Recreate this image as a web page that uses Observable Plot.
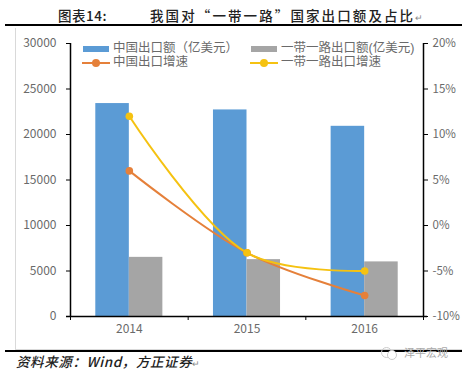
<!DOCTYPE html>
<html><head><meta charset="utf-8">
<script src="https://cdn.jsdelivr.net/npm/d3@7"></script>
<script src="https://cdn.jsdelivr.net/npm/@observablehq/plot@0.6"></script>
<style>
html,body{margin:0;padding:0;background:#fff;}
#wrap{position:relative;width:462px;height:372px;overflow:hidden;font-family:"Noto Sans CJK SC",sans-serif;}
#wrap svg{position:absolute;left:0;top:0;}
.t{position:absolute;white-space:nowrap;}
.lg{position:absolute;white-space:nowrap;font-family:"Liberation Sans","Noto Sans CJK SC",sans-serif;font-size:12.5px;line-height:13px;color:#6a6a6a;}
.sw{position:absolute;}
</style></head><body>
<div id="wrap"></div>
<script>
const years=[2014,2015,2016];
const chinaExport=[23400,22700,20900];
const brExport=[6500,6250,6000];
const chinaGrowth=[6,-3,-7.7];
const brGrowth=[12,-3,-5];
const leftTicks=[0,5000,10000,15000,20000,25000,30000];
const rightTicks=[-10,-5,0,5,10,15,20];
const xEdges=[2013.5,2014.5,2015.5,2016.5];
const colors={china:"#5b9bd5",br:"#a5a5a5",chinaLine:"#e5803a",brLine:"#f5c211"};
const barW=0.285;
const toLeft=p=>(p+10)*1000;
const rows=years.map((y,i)=>({y,c:chinaExport[i],b:brExport[i],cg:toLeft(chinaGrowth[i]),bg:toLeft(brGrowth[i])}));

const plot=Plot.plot({
  width:462,height:372,
  marginLeft:70,marginRight:39,marginTop:43,marginBottom:56,
  style:{background:"transparent",fontFamily:"'Noto Sans CJK SC',sans-serif",overflow:"visible"},
  x:{type:"linear",domain:[2013.5,2016.5]},
  y:{type:"linear",domain:[0,30000]},
  marks:[
    Plot.rectY(rows,{x1:d=>d.y-barW,x2:d=>d.y,y1:0,y2:"c",fill:colors.china}),
    Plot.rectY(rows,{x1:d=>d.y,x2:d=>d.y+barW,y1:0,y2:"b",fill:colors.br}),
    Plot.ruleX([2013.5],{stroke:"#000",strokeWidth:1.5}),
    Plot.ruleX([2016.5],{stroke:"#000",strokeWidth:1.5}),
    Plot.ruleY([0],{stroke:"#000",strokeWidth:1.5,insetLeft:-4,insetRight:-4}),
    Plot.axisY({ticks:leftTicks,anchor:"left",label:null,tickSize:4,tickPadding:10,fontSize:12,color:"#6a6a6a",stroke:"#000",tickFormat:d=>String(d)}),
    Plot.axisY({ticks:rightTicks.map(toLeft),anchor:"right",label:null,tickSize:4,tickPadding:5,fontSize:11.5,color:"#6a6a6a",stroke:"#000",tickFormat:d=>(d/1000-10)+"%"}),
    Plot.axisX({ticks:xEdges,anchor:"bottom",label:null,tickSize:4,tickFormat:()=>"",stroke:"#000"}),
    Plot.text(years,{x:d=>d,frameAnchor:"bottom",dy:16,text:d=>String(d),fontSize:12,fill:"#6a6a6a"}),
    Plot.line(rows,{x:"y",y:"cg",stroke:colors.chinaLine,strokeWidth:2,curve:"catmull-rom"}),
    Plot.line(rows,{x:"y",y:"bg",stroke:colors.brLine,strokeWidth:2,curve:"catmull-rom"}),
    Plot.dot(rows,{x:"y",y:"cg",r:3.8,fill:colors.chinaLine}),
    Plot.dot(rows,{x:"y",y:"bg",r:3.8,fill:colors.brLine})
  ]
});
const w=document.getElementById("wrap");
w.appendChild(plot);
function div(css,html,cls){const d=document.createElement("div");d.className=cls||"t";d.style.cssText=css;if(html)d.innerHTML=html;w.appendChild(d);return d;}
div("left:58px;top:5px;font-size:13.5px;font-weight:500;color:#222;letter-spacing:.5px;","图表14:");
div("left:150px;top:5px;font-size:13.5px;font-weight:500;color:#222;letter-spacing:2.1px;","我国对“一带一路”国家出口额及占比<span style='font-size:9px;color:#888;letter-spacing:0'>↵</span>");
div("left:5px;top:24px;width:457px;height:2px;background:#000;","","sw");
div("left:15px;top:28px;width:1px;height:321px;background:#d9d9d9;","","sw");
div("left:15px;top:349px;width:447px;height:1px;background:#d9d9d9;","","sw");
div("left:5px;top:350px;width:457px;height:2px;background:#000;","","sw");
// legend
div("left:83px;top:46px;width:26px;height:6px;background:"+colors.china,"","sw");
div("left:251px;top:46px;width:26px;height:6px;background:"+colors.br,"","sw");
div("left:82px;top:62px;width:28px;height:2px;background:"+colors.chinaLine,"","sw");
div("left:92px;top:59px;width:8px;height:8px;border-radius:50%;background:"+colors.chinaLine,"","sw");
div("left:250px;top:62px;width:28px;height:2px;background:"+colors.brLine,"","sw");
div("left:260px;top:59px;width:8px;height:8px;border-radius:50%;background:"+colors.brLine,"","sw");
div("left:113px;top:42px;","中国出口额\uFF08亿美元\uFF09","lg");
div("left:281px;top:42px;","一带一路出口额(亿美元)","lg");
div("left:113px;top:56px;","中国出口增速","lg");
div("left:281px;top:56px;","一带一路出口增速","lg");
div("left:16px;top:353px;font-size:13.5px;font-style:italic;font-weight:500;color:#222;line-height:16px;letter-spacing:.6px;","资料来源\uFF1AWind\uFF0C方正证券<span style='font-size:9px;color:#888;font-style:normal'>↵</span>");
div("left:381px;top:347px;width:9px;height:9px;border:1px solid #ccc;border-radius:50%;","","sw");
div("left:387px;top:350px;width:8px;height:8px;border:1px solid #ccc;border-radius:50%;background:#fff;","","sw");
div("left:404px;top:345px;font-size:11px;color:#aaa;line-height:14px;","泽平宏观");
</script></body></html>
